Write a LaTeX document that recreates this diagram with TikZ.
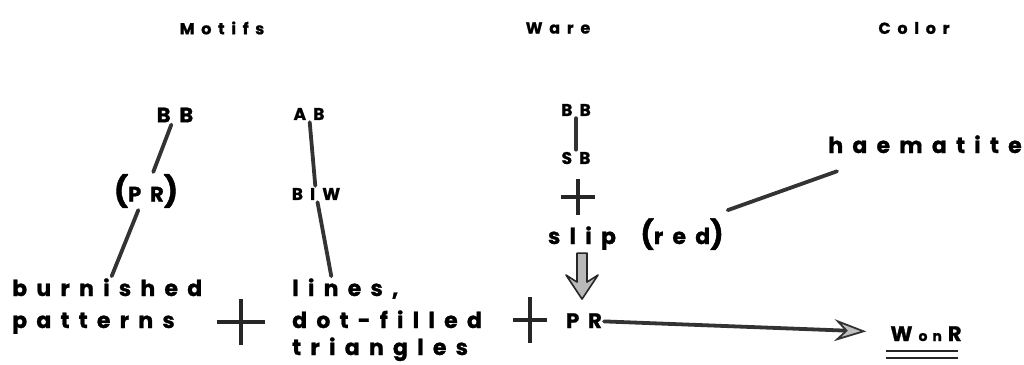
\documentclass[tikz,border=0pt]{standalone}
\usepackage{fontspec}
\usetikzlibrary{arrows.meta}
\newfontfamily\wfont{Poppins}[LetterSpace=42, BoldFeatures={FakeBold=1.1}]
\newfontfamily\pfont{Poppins}[BoldFeatures={FakeBold=1.4}]
\newcommand{\lpar}[1]{{\pfont\bfseries\fontsize{#1}{#1}\selectfont(}}
\newcommand{\rpar}[1]{{\pfont\bfseries\fontsize{#1}{#1}\selectfont)}}
\tikzset{
  every node/.style={inner sep=2pt, text=black},
  hdr/.style={font=\wfont\bfseries\fontsize{16}{16}\selectfont},
  lab/.style={font=\wfont\bfseries\fontsize{22}{22}\selectfont},
  caplab/.style={font=\wfont\bfseries\fontsize{21}{21}\selectfont},
  sml/.style={font=\wfont\bfseries\fontsize{17}{17}\selectfont},
  con/.style={line width=3.8pt, draw=black!80, line cap=round},
  pl/.style={line width=3.4pt, draw=black!85},
  blockarrow/.style={fill=gray!55, draw=black!85, line width=1.6pt, line join=round},
  uline/.style={line width=2.4pt, draw=black!85},
}
\begin{document}
\begin{tikzpicture}[x=1pt,y=-1pt]
\useasboundingbox (0,0) rectangle (1024,364);
% headers
\node[hdr] (motifs) at (222,28) {Motifs};
\node[hdr] (ware) at (558,28) {Ware};
\node[hdr] (color) at (914,28) {Color};
% motifs column
\node[caplab] (bbm) at (175,115) {BB};
\node[sml] (ab) at (309,114) {AB};
\node[caplab] (prm) at (146,191) {\lpar{30}PR\rpar{30}};
\node[sml] (biw) at (316,194) {BIW};
\node[lab, anchor=base west] (burn) at (10,296) {burnished};
\node[lab, anchor=base west] (patt) at (10,328) {patterns};
\node[lab, anchor=base west] (lines) at (290,296) {lines,};
\node[lab, anchor=base west] (dotf) at (290,328) {dot-filled};
\node[lab, anchor=base west] (tri) at (290,355) {triangles};
% ware column
\node[sml] (bbw) at (576,110) {BB};
\node[sml] (sb) at (576,158) {SB};
\node[lab, anchor=base] (slip) at (582,244) {slip};
\node[lab, anchor=base] (red) at (682,244) {\lpar{28}red\rpar{28}};
\node[lab, anchor=base] (haem) at (925,153) {haematite};
\node[caplab, anchor=base] (prw) at (584,328) {PR};
\node[caplab, anchor=base] (wonr) at (926,341) {W\hspace{6pt}{\fontsize{14}{14}\selectfont o\hspace{5pt}n}\hspace{6pt}R};
% plus signs
\coordinate (p1) at (241,322);
\coordinate (p2) at (578,197);
\coordinate (p3) at (530,320);
\draw[pl] ([xshift=-24pt]p1) -- ([xshift=24pt]p1) ([yshift=23pt]p1) -- ([yshift=-23pt]p1);
\draw[pl] ([xshift=-17pt]p2) -- ([xshift=17pt]p2) ([yshift=18pt]p2) -- ([yshift=-18pt]p2);
\draw[pl] ([xshift=-17pt]p3) -- ([xshift=17pt]p3) ([yshift=23pt]p3) -- ([yshift=-23pt]p3);
% connectors
\draw[con] (bbm) -- (prm);
\draw[con] (prm) -- (burn);
\draw[con] (ab) -- (biw);
\draw[con] (biw) -- ([xshift=-14pt]lines.north);
\draw[con] (bbw) -- (sb);
\draw[con] ([xshift=2pt,yshift=24pt]red.east) -- ([xshift=-88pt,yshift=-27pt]haem.center);
\begin{scope}[shift={(slip.south)}]
\draw[blockarrow] (-5,1) -- (5,1) -- (5,30) -- (16,23) -- (0,47) -- (-16,23) -- (-5,30) -- cycle;
\end{scope}
\draw[con, shorten >=22pt, -{Stealth[length=32pt,width=22pt,inset=11pt,fill=gray!50,line width=1.8pt]}] (prw) -- (wonr);
\draw[uline] ([xshift=-2pt,yshift=-10pt]wonr.base west) -- ([xshift=-6pt,yshift=-10pt]wonr.base east);
\draw[uline] ([xshift=-2pt,yshift=-17pt]wonr.base west) -- ([xshift=-6pt,yshift=-17pt]wonr.base east);
\end{tikzpicture}
\end{document}
